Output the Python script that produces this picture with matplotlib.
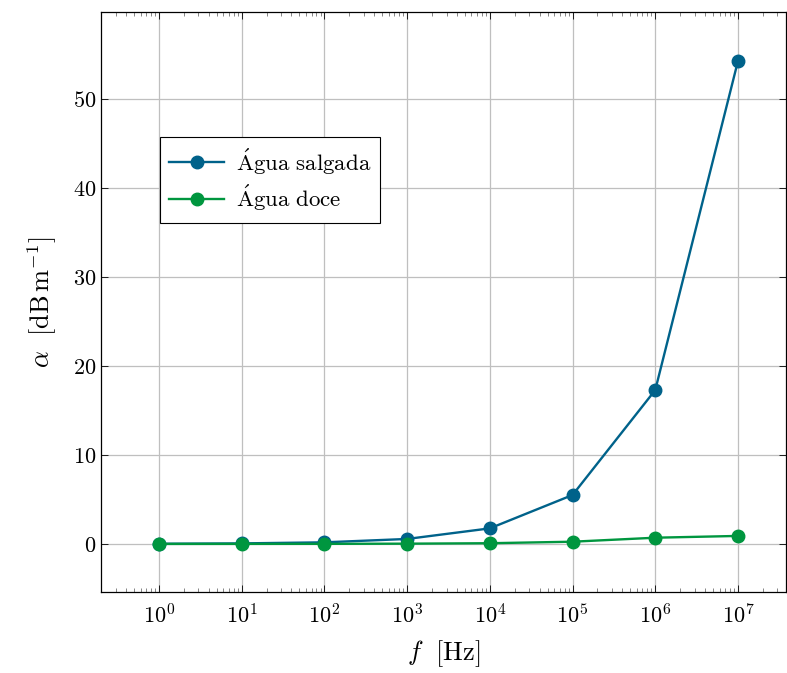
import numpy as np
import matplotlib
matplotlib.use("Agg")
import matplotlib.pyplot as plt
from matplotlib.ticker import LogLocator, NullFormatter, MultipleLocator

plt.rcParams['font.family'] = 'serif'
plt.rcParams['font.serif'] = ['cmr10']
plt.rcParams['mathtext.fontset'] = 'cm'
plt.rcParams['axes.formatter.use_mathtext'] = True

# Frequências (Hz) e atenuação (dB/m)
freq = [1e0, 1e1, 1e2, 1e3, 1e4, 1e5, 1e6, 1e7]
alfa_salgada = [0.02, 0.06, 0.18, 0.56, 1.75, 5.5, 17.3, 54.3]
alfa_doce = [0.0, 0.005, 0.01, 0.03, 0.08, 0.25, 0.7, 0.9]

azul = "#00628A"
verde = "#00963F"

fig = plt.figure(figsize=(7.87, 6.73), dpi=100)
ax = fig.add_axes([0.1283, 0.1204, 0.8704, 0.8618])

ax.plot(freq, alfa_salgada, color=azul, linewidth=1.7, marker='o', markersize=9,
        label=r'$\mathrm{\acute{A}gua\ salgada}$')
ax.plot(freq, alfa_doce, color=verde, linewidth=1.7, marker='o', markersize=9,
        label=r'$\mathrm{\acute{A}gua\ doce}$')

ax.set_xscale('log')
ax.set_xlim(10 ** -0.7, 10 ** 7.58)
ax.set_ylim(-5.4, 59.8)

ax.xaxis.set_major_locator(LogLocator(base=10, numticks=20))
ax.xaxis.set_minor_locator(LogLocator(base=10, subs=np.arange(2, 10), numticks=20))
ax.xaxis.set_minor_formatter(NullFormatter())
ax.set_xticks(freq)
ax.yaxis.set_major_locator(MultipleLocator(10))

ax.tick_params(which='both', direction='in', top=True, right=True, labelsize=16)
ax.tick_params(which='major', length=5, width=0.6)
ax.tick_params(which='minor', length=3, width=0.5, color='#555555')
ax.tick_params(axis='x', pad=8)

ax.grid(True, which='major', color='#bfbfbf', linewidth=0.9)
ax.set_axisbelow(True)
for s in ax.spines.values():
    s.set_linewidth(0.9)

ax.set_xlabel(r'$f\ \ \mathrm{[Hz]}$', fontsize=19, labelpad=8)
ax.set_ylabel(r'$\alpha\ \ \mathrm{[dB\,m^{-1}]}$', fontsize=19, labelpad=10)

leg = ax.legend(loc='upper left', bbox_to_anchor=(0.086, 0.784), fontsize=16.5,
                frameon=True, fancybox=False, framealpha=1, edgecolor='black',
                borderpad=0.4, borderaxespad=0, handlelength=2.4,
                labelspacing=0.3, handletextpad=0.5)
leg.get_frame().set_linewidth(0.8)

fig.savefig("out.png", dpi=100)
